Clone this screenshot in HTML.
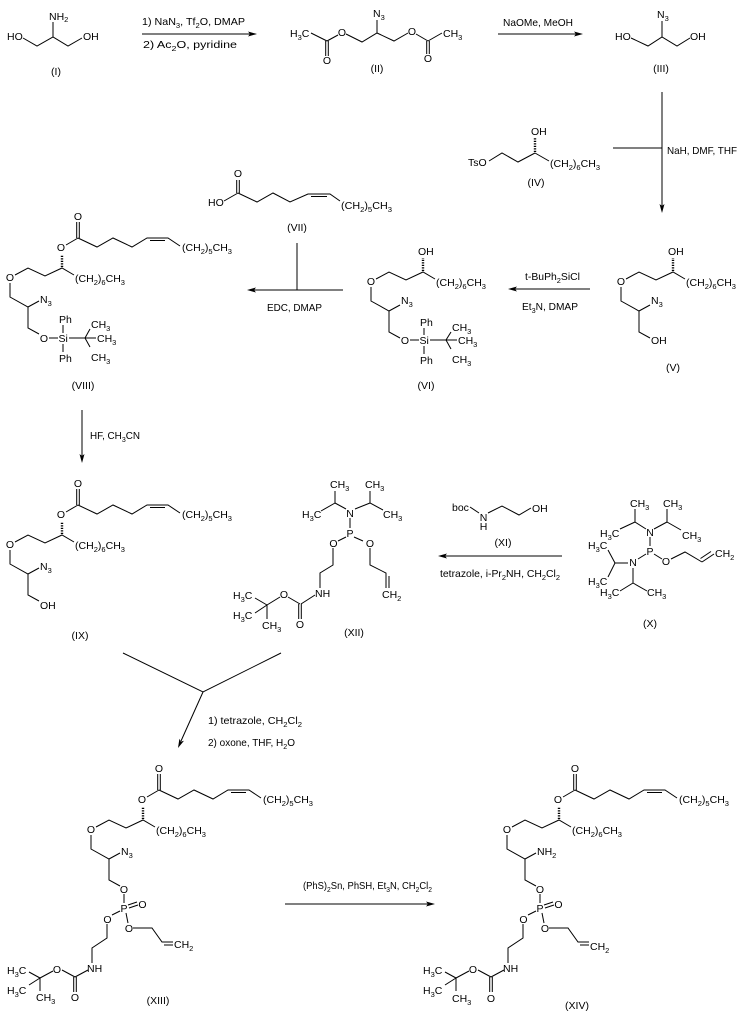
<!DOCTYPE html>
<html><head><meta charset="utf-8"><style>
html,body{margin:0;padding:0;background:#fff;}
svg{display:block;}
text{font-family:"Liberation Sans",Arial,sans-serif;font-size:10.5px;fill:#000;}
.s{font-size:7.5px;}
line,polyline{stroke:#000;stroke-width:1;fill:none;}
polygon{fill:#000;stroke:none;}
.h{stroke-dasharray:1.2 1.3;stroke-width:2.4;}
.m{text-anchor:middle;}
</style></head><body>
<svg width="741" height="1013" viewBox="0 0 741 1013" xmlns="http://www.w3.org/2000/svg">
<rect width="741" height="1013" fill="#fff"/>

<!-- (I) -->
<text x="7" y="40">HO</text>
<text x="83" y="40">OH</text>
<text x="49" y="20">NH<tspan class="s" dy="2">2</tspan></text>
<polyline points="23,38 37,46 53,37 68,46 82,38"/>
<line x1="53" y1="37" x2="53" y2="22"/>
<text x="56" y="75" class="m">(I)</text>

<!-- arrow 1 -->
<line x1="142" y1="34" x2="250" y2="34"/>
<polygon points="257,34 248,31.5 250,34 248,36.5"/>
<text x="142" y="25" textLength="103" lengthAdjust="spacingAndGlyphs">1) NaN<tspan class="s" dy="3">3</tspan><tspan dy="-3">, Tf</tspan><tspan class="s" dy="3">2</tspan><tspan dy="-3">O, DMAP</tspan></text>
<text x="143" y="48" textLength="94" lengthAdjust="spacingAndGlyphs">2) Ac<tspan class="s" dy="3">2</tspan><tspan dy="-3">O, pyridine</tspan></text>

<!-- (II) -->
<text x="290" y="37">H<tspan class="s" dy="3">3</tspan><tspan dy="-3">C</tspan></text>
<line x1="311" y1="33" x2="327" y2="41"/>
<line x1="325.7" y1="41" x2="325.7" y2="56"/><line x1="328.3" y1="41" x2="328.3" y2="56"/>
<text x="327" y="64" class="m">O</text>
<line x1="327" y1="41" x2="338" y2="35"/>
<text x="342" y="36" class="m">O</text>
<polyline points="346,34 362,42 377,33 394,41 408,33"/>
<line x1="377" y1="33" x2="377" y2="20"/>
<text x="373" y="17">N<tspan class="s" dy="3">3</tspan></text>
<text x="412" y="35" class="m">O</text>
<line x1="416" y1="34" x2="428" y2="41"/>
<line x1="428" y1="41" x2="442" y2="33"/>
<line x1="426.7" y1="41" x2="426.7" y2="54"/><line x1="429.3" y1="41" x2="429.3" y2="54"/>
<text x="428" y="62" class="m">O</text>
<text x="443" y="37">CH<tspan class="s" dy="3">3</tspan></text>
<text x="377" y="72" class="m">(II)</text>

<!-- arrow 2 -->
<line x1="498" y1="34" x2="576" y2="34"/>
<polygon points="583,34 574,31.5 576,34 574,36.5"/>
<text x="503" y="26" textLength="70" lengthAdjust="spacingAndGlyphs">NaOMe, MeOH</text>

<!-- (III) -->
<text x="615" y="40">HO</text>
<text x="690" y="40">OH</text>
<polyline points="631,38 648,46 662,37 677,46 690,38"/>
<line x1="662" y1="37" x2="662" y2="21"/>
<text x="657" y="18">N<tspan class="s" dy="3">3</tspan></text>
<text x="661" y="72" class="m">(III)</text>

<!-- arrow 3 -->
<line x1="662" y1="92" x2="662" y2="206"/>
<polygon points="662,213 659.5,204 662,206 664.5,204"/>
<line x1="613" y1="148" x2="662" y2="148"/>
<text x="667" y="154" textLength="70" lengthAdjust="spacingAndGlyphs">NaH, DMF, THF</text>

<!-- (IV) -->
<text x="468" y="166">TsO</text>
<polyline points="489,161 502,153 518,162 535,153"/>
<line class="h" x1="535" y1="152" x2="535" y2="138"/>
<text x="531" y="135">OH</text>
<line x1="535" y1="153" x2="549" y2="161"/>
<text x="550" y="167" textLength="50" lengthAdjust="spacingAndGlyphs">(CH<tspan class="s" dy="3">2</tspan><tspan dy="-3">)</tspan><tspan class="s" dy="3">6</tspan><tspan dy="-3">CH</tspan><tspan class="s" dy="3">3</tspan></text>
<text x="536" y="186" class="m">(IV)</text>

<!-- (VII) -->
<text x="238" y="177" class="m">O</text>
<line x1="236.7" y1="193" x2="236.7" y2="180"/><line x1="239.3" y1="193" x2="239.3" y2="180"/>
<text x="208" y="206">HO</text>
<line x1="224" y1="201" x2="238" y2="193"/>
<polyline points="238,193 257,202 273,193 290,202 308,194 330,194 340,201"/>
<line x1="311" y1="196.5" x2="327" y2="196.5"/>
<text x="341" y="209" textLength="51" lengthAdjust="spacingAndGlyphs">(CH<tspan class="s" dy="3">2</tspan><tspan dy="-3">)</tspan><tspan class="s" dy="3">5</tspan><tspan dy="-3">CH</tspan><tspan class="s" dy="3">3</tspan></text>
<text x="297" y="231" class="m">(VII)</text>

<!-- arrow 5 (EDC) -->
<line x1="343" y1="290" x2="254" y2="290"/>
<polygon points="247,290 256,287.5 254,290 256,292.5"/>
<line x1="297" y1="243" x2="297" y2="290"/>
<text x="267" y="311" textLength="55" lengthAdjust="spacingAndGlyphs">EDC, DMAP</text>

<!-- arrow 4 (V->VI) -->
<line x1="590" y1="289" x2="515" y2="289"/>
<polygon points="508,289 517,286.5 515,289 517,291.5"/>
<text x="525" y="280" textLength="55" lengthAdjust="spacingAndGlyphs">t-BuPh<tspan class="s" dy="3">2</tspan><tspan dy="-3">SiCl</tspan></text>
<text x="522" y="310" textLength="56" lengthAdjust="spacingAndGlyphs">Et<tspan class="s" dy="3">3</tspan><tspan dy="-3">N, DMAP</tspan></text>

<!-- (V) -->
<g transform="translate(621,281)">
<line class="h" x1="52" y1="-10" x2="52" y2="-23"/>
<text x="47" y="-26">OH</text>
<text x="0" y="4" class="m">O</text>
<polyline points="5,-2 18,-9 35,-1 52,-9 64,-2"/>
<text x="65" y="5" textLength="50" lengthAdjust="spacingAndGlyphs">(CH<tspan class="s" dy="3">2</tspan><tspan dy="-3">)</tspan><tspan class="s" dy="3">6</tspan><tspan dy="-3">CH</tspan><tspan class="s" dy="3">3</tspan></text>
<polyline points="0,6 0,20 18,30 29,24"/>
<text x="30" y="23">N<tspan class="s" dy="3">3</tspan></text>
<polyline points="18,30 18,51 29,57"/>
<text x="30" y="63">OH</text>
</g>
<text x="673" y="371" class="m">(V)</text>

<!-- (VI) -->
<g transform="translate(371,281)">
<line class="h" x1="52" y1="-10" x2="52" y2="-23"/>
<text x="47" y="-26">OH</text>
<text x="0" y="4" class="m">O</text>
<polyline points="5,-2 18,-9 35,-1 52,-9 64,-2"/>
<text x="65" y="5" textLength="50" lengthAdjust="spacingAndGlyphs">(CH<tspan class="s" dy="3">2</tspan><tspan dy="-3">)</tspan><tspan class="s" dy="3">6</tspan><tspan dy="-3">CH</tspan><tspan class="s" dy="3">3</tspan></text>
<polyline points="0,6 0,20 18,30 29,24"/>
<text x="30" y="23">N<tspan class="s" dy="3">3</tspan></text>
<polyline points="18,30 18,51 29,57"/>
<text x="34" y="63" class="m">O</text>
<line x1="39" y1="59" x2="48" y2="59"/>
<text x="48.5" y="63">Si</text>
<text x="49" y="45">Ph</text>
<line x1="53" y1="47" x2="53" y2="54"/>
<line x1="53" y1="65" x2="53" y2="73"/>
<text x="49" y="83">Ph</text>
<line x1="59" y1="59" x2="75" y2="59"/>
<line x1="75" y1="59" x2="80" y2="51"/>
<line x1="75" y1="59" x2="86" y2="59"/>
<line x1="75" y1="59" x2="80" y2="68"/>
<text x="81" y="50">CH<tspan class="s" dy="3">3</tspan></text>
<text x="87" y="63">CH<tspan class="s" dy="3">3</tspan></text>
<text x="81" y="82">CH<tspan class="s" dy="3">3</tspan></text>
</g>
<text x="426" y="389" class="m">(VI)</text>

<!-- (VIII) -->
<g transform="translate(10,277)">
<line class="h" x1="52" y1="-10" x2="52" y2="-22"/>
<text x="51" y="-26" class="m">O</text>
<line x1="56" y1="-32" x2="68" y2="-39"/>
<line x1="66.7" y1="-39" x2="66.7" y2="-55"/><line x1="69.3" y1="-39" x2="69.3" y2="-55"/>
<text x="68" y="-57" class="m">O</text>
<polyline points="68,-39 87,-30 103,-39 122,-30 137,-39 158,-39 170,-31"/>
<line x1="140" y1="-36.5" x2="155" y2="-36.5"/>
<text x="172" y="-26" textLength="50" lengthAdjust="spacingAndGlyphs">(CH<tspan class="s" dy="3">2</tspan><tspan dy="-3">)</tspan><tspan class="s" dy="3">5</tspan><tspan dy="-3">CH</tspan><tspan class="s" dy="3">3</tspan></text>
<text x="0" y="4" class="m">O</text>
<polyline points="5,-2 18,-9 35,-1 52,-9 64,-2"/>
<text x="65" y="5" textLength="50" lengthAdjust="spacingAndGlyphs">(CH<tspan class="s" dy="3">2</tspan><tspan dy="-3">)</tspan><tspan class="s" dy="3">6</tspan><tspan dy="-3">CH</tspan><tspan class="s" dy="3">3</tspan></text>
<polyline points="0,6 0,20 18,30 29,24"/>
<text x="30" y="26">N<tspan class="s" dy="3">3</tspan></text>
<polyline points="18,30 18,51 29,57"/>
<text x="34" y="65" class="m">O</text>
<line x1="39" y1="61" x2="48" y2="61"/>
<text x="48.5" y="65">Si</text>
<text x="49" y="46">Ph</text>
<line x1="53" y1="48" x2="53" y2="56"/>
<line x1="53" y1="67" x2="53" y2="75"/>
<text x="49" y="85">Ph</text>
<line x1="59" y1="61" x2="75" y2="61"/>
<line x1="75" y1="61" x2="80" y2="52"/>
<line x1="75" y1="61" x2="86" y2="61"/>
<line x1="75" y1="61" x2="80" y2="70"/>
<text x="81" y="51">CH<tspan class="s" dy="3">3</tspan></text>
<text x="87" y="65">CH<tspan class="s" dy="3">3</tspan></text>
<text x="81" y="84">CH<tspan class="s" dy="3">3</tspan></text>
</g>
<text x="83" y="389" class="m">(VIII)</text>

<!-- arrow 6 -->
<line x1="82" y1="410" x2="82" y2="456"/>
<polygon points="82,463 79.5,454 82,456 84.5,454"/>
<text x="90" y="439" textLength="50" lengthAdjust="spacingAndGlyphs">HF, CH<tspan class="s" dy="3">3</tspan><tspan dy="-3">CN</tspan></text>

<!-- (IX) -->
<g transform="translate(10,544)">
<line class="h" x1="52" y1="-10" x2="52" y2="-22"/>
<text x="51" y="-26" class="m">O</text>
<line x1="56" y1="-32" x2="68" y2="-39"/>
<line x1="66.7" y1="-39" x2="66.7" y2="-55"/><line x1="69.3" y1="-39" x2="69.3" y2="-55"/>
<text x="68" y="-57" class="m">O</text>
<polyline points="68,-39 87,-30 103,-39 122,-30 137,-39 158,-39 170,-31"/>
<line x1="140" y1="-36.5" x2="155" y2="-36.5"/>
<text x="172" y="-26" textLength="50" lengthAdjust="spacingAndGlyphs">(CH<tspan class="s" dy="3">2</tspan><tspan dy="-3">)</tspan><tspan class="s" dy="3">5</tspan><tspan dy="-3">CH</tspan><tspan class="s" dy="3">3</tspan></text>
<text x="0" y="4" class="m">O</text>
<polyline points="5,-2 18,-9 35,-1 52,-9 64,-2"/>
<text x="65" y="5" textLength="50" lengthAdjust="spacingAndGlyphs">(CH<tspan class="s" dy="3">2</tspan><tspan dy="-3">)</tspan><tspan class="s" dy="3">6</tspan><tspan dy="-3">CH</tspan><tspan class="s" dy="3">3</tspan></text>
<polyline points="0,6 0,20 18,30 29,24"/>
<text x="30" y="26">N<tspan class="s" dy="3">3</tspan></text>
<polyline points="18,30 18,51 29,57"/>
<text x="30" y="65">OH</text>
</g>
<text x="80" y="639" class="m">(IX)</text>

<!-- (XII) -->
<text x="330" y="488">CH<tspan class="s" dy="3">3</tspan></text>
<text x="365" y="488">CH<tspan class="s" dy="3">3</tspan></text>
<text x="302" y="518">H<tspan class="s" dy="3">3</tspan><tspan dy="-3">C</tspan></text>
<text x="350" y="517" class="m">N</text>
<text x="383" y="518">CH<tspan class="s" dy="3">3</tspan></text>
<polyline points="335,491 335,503 321,511"/>
<line x1="335" y1="503" x2="346" y2="509"/>
<polyline points="370,491 370,503 383,510"/>
<line x1="370" y1="503" x2="355" y2="509"/>
<line x1="350" y1="518" x2="350" y2="528"/>
<text x="350" y="537" class="m">P</text>
<line x1="346" y1="537" x2="338" y2="541"/>
<line x1="354" y1="537" x2="363" y2="541"/>
<text x="333.5" y="547" class="m">O</text>
<text x="370" y="547" class="m">O</text>
<polyline points="333,548 333,565 320,573 320,588"/>
<text x="315" y="597">NH</text>
<polyline points="370,548 370,565 386,573 386,588"/>
<line x1="389" y1="576" x2="389" y2="588"/>
<text x="382" y="598">CH<tspan class="s" dy="3">2</tspan></text>
<line x1="315" y1="595" x2="301" y2="604"/>
<line x1="298.7" y1="604" x2="298.7" y2="619"/><line x1="301.3" y1="604" x2="301.3" y2="619"/>
<text x="300" y="628" class="m">O</text>
<line x1="300" y1="604" x2="288" y2="597"/>
<text x="284" y="598" class="m">O</text>
<line x1="280" y1="597" x2="267" y2="605"/>
<line x1="267" y1="605" x2="255" y2="598"/>
<line x1="267" y1="605" x2="255" y2="613"/>
<line x1="267" y1="605" x2="267" y2="619"/>
<text x="233" y="599">H<tspan class="s" dy="3">3</tspan><tspan dy="-3">C</tspan></text>
<text x="233" y="619">H<tspan class="s" dy="3">3</tspan><tspan dy="-3">C</tspan></text>
<text x="262" y="629">CH<tspan class="s" dy="3">3</tspan></text>
<text x="354" y="636" class="m">(XII)</text>

<!-- (XI) -->
<text x="452" y="511">boc</text>
<line x1="470" y1="507" x2="479" y2="513"/>
<text x="483.5" y="521" class="m">N</text>
<text x="483.5" y="530" class="m">H</text>
<polyline points="488,513 502,506 519,515 531,508"/>
<text x="532" y="512">OH</text>
<text x="503" y="546" class="m">(XI)</text>

<!-- arrow 7 -->
<line x1="562" y1="556" x2="445" y2="556"/>
<polygon points="438,556 447,553.5 445,556 447,558.5"/>
<text x="440" y="577" textLength="120" lengthAdjust="spacingAndGlyphs">tetrazole, i-Pr<tspan class="s" dy="3">2</tspan><tspan dy="-3">NH, CH</tspan><tspan class="s" dy="3">2</tspan><tspan dy="-3">Cl</tspan><tspan class="s" dy="3">2</tspan></text>

<!-- (X) -->
<text x="630" y="507">CH<tspan class="s" dy="3">3</tspan></text>
<text x="663" y="507">CH<tspan class="s" dy="3">3</tspan></text>
<text x="600" y="537">H<tspan class="s" dy="3">3</tspan><tspan dy="-3">C</tspan></text>
<text x="650" y="536" class="m">N</text>
<text x="682" y="539">CH<tspan class="s" dy="3">3</tspan></text>
<polyline points="635,509 635,522 620,529"/>
<line x1="635" y1="522" x2="646" y2="529"/>
<polyline points="667,509 667,522 681,530"/>
<line x1="667" y1="522" x2="654" y2="529"/>
<line x1="650" y1="537" x2="650" y2="546"/>
<text x="650" y="555" class="m">P</text>
<line x1="646" y1="554" x2="638" y2="559"/>
<line x1="654" y1="554" x2="662" y2="559"/>
<text x="666" y="565" class="m">O</text>
<polyline points="671,559 685,552 702,562"/>
<line x1="702" y1="562" x2="714" y2="554"/>
<line x1="700.5" y1="558.5" x2="711" y2="551.5"/>
<text x="715" y="557">CH<tspan class="s" dy="3">2</tspan></text>
<text x="633" y="566" class="m">N</text>
<line x1="628" y1="563" x2="615" y2="563"/>
<line x1="615" y1="563" x2="608" y2="550"/>
<line x1="615" y1="563" x2="608" y2="577"/>
<text x="588" y="549">H<tspan class="s" dy="3">3</tspan><tspan dy="-3">C</tspan></text>
<text x="588" y="585">H<tspan class="s" dy="3">3</tspan><tspan dy="-3">C</tspan></text>
<line x1="633" y1="568" x2="633" y2="583"/>
<line x1="633" y1="583" x2="620" y2="591"/>
<line x1="633" y1="583" x2="647" y2="591"/>
<text x="600" y="596">H<tspan class="s" dy="3">3</tspan><tspan dy="-3">C</tspan></text>
<text x="647" y="596">CH<tspan class="s" dy="3">3</tspan></text>
<text x="650" y="627" class="m">(X)</text>

<!-- arrow 8 convergent -->
<polyline points="123,653 203,692 281,653"/>
<line x1="203" y1="692" x2="181" y2="741"/>
<polygon points="178,748 184,740.8 180.9,741.6 179.4,738.8"/>
<text x="208" y="724" textLength="94" lengthAdjust="spacingAndGlyphs">1) tetrazole, CH<tspan class="s" dy="3">2</tspan><tspan dy="-3">Cl</tspan><tspan class="s" dy="3">2</tspan></text>
<text x="208" y="746" textLength="87" lengthAdjust="spacingAndGlyphs">2) oxone, THF, H<tspan class="s" dy="3">2</tspan><tspan dy="-3">O</tspan></text>

<!-- (XIII) -->
<g transform="translate(91,829)">
<line class="h" x1="52" y1="-10" x2="52" y2="-22"/>
<text x="51" y="-26" class="m">O</text>
<line x1="56" y1="-32" x2="68" y2="-39"/>
<line x1="66.7" y1="-39" x2="66.7" y2="-55"/><line x1="69.3" y1="-39" x2="69.3" y2="-55"/>
<text x="68" y="-57" class="m">O</text>
<polyline points="68,-39 87,-30 103,-39 122,-30 137,-39 158,-39 170,-31"/>
<line x1="140" y1="-36.5" x2="155" y2="-36.5"/>
<text x="172" y="-26" textLength="50" lengthAdjust="spacingAndGlyphs">(CH<tspan class="s" dy="3">2</tspan><tspan dy="-3">)</tspan><tspan class="s" dy="3">5</tspan><tspan dy="-3">CH</tspan><tspan class="s" dy="3">3</tspan></text>
<text x="0" y="4" class="m">O</text>
<polyline points="5,-2 18,-9 35,-1 52,-9 64,-2"/>
<text x="65" y="5" textLength="50" lengthAdjust="spacingAndGlyphs">(CH<tspan class="s" dy="3">2</tspan><tspan dy="-3">)</tspan><tspan class="s" dy="3">6</tspan><tspan dy="-3">CH</tspan><tspan class="s" dy="3">3</tspan></text>
<polyline points="0,6 0,20 18,30 29,24"/>
<text x="30" y="26">N<tspan class="s" dy="3">3</tspan></text>
<polyline points="18,30 18,51 29,57"/>
<text x="33" y="64" class="m">O</text>
<line x1="33" y1="65" x2="33" y2="74"/>
<text x="33" y="83" class="m">P</text>
<line x1="37" y1="76" x2="46" y2="73"/><line x1="38" y1="79" x2="47" y2="76"/>
<text x="51.5" y="79" class="m">O</text>
<line x1="29" y1="82" x2="21" y2="86"/>
<text x="16.5" y="94" class="m">O</text>
<line x1="35" y1="84" x2="37" y2="94"/>
<text x="38" y="103" class="m">O</text>
<polyline points="42,99 61,99 71,113 82,113"/>
<line x1="73" y1="116" x2="82" y2="116"/>
<text x="83" y="119">CH<tspan class="s" dy="3">2</tspan></text>
<polyline points="16,95 16,109 1,119 1,134"/>
<text x="-4" y="143">NH</text>
<line x1="-3" y1="141" x2="-16" y2="148"/>
<line x1="-17.3" y1="148" x2="-17.3" y2="163"/><line x1="-14.7" y1="148" x2="-14.7" y2="163"/>
<text x="-16" y="172" class="m">O</text>
<line x1="-16" y1="148" x2="-29" y2="141"/>
<text x="-34" y="144" class="m">O</text>
<line x1="-38" y1="142" x2="-51" y2="149"/>
<line x1="-51" y1="149" x2="-62" y2="143"/>
<line x1="-51" y1="149" x2="-62" y2="156"/>
<line x1="-51" y1="149" x2="-51" y2="162"/>
<text x="-84" y="145">H<tspan class="s" dy="3">3</tspan><tspan dy="-3">C</tspan></text>
<text x="-84" y="165">H<tspan class="s" dy="3">3</tspan><tspan dy="-3">C</tspan></text>
<text x="-55" y="172">CH<tspan class="s" dy="3">3</tspan></text>
</g>
<text x="158" y="1004" class="m">(XIII)</text>

<!-- arrow 9 -->
<line x1="285" y1="904" x2="428" y2="904"/>
<polygon points="435,904 426,901.5 428,904 426,906.5"/>
<text x="303" y="889" textLength="129" lengthAdjust="spacingAndGlyphs">(PhS)<tspan class="s" dy="3">2</tspan><tspan dy="-3">Sn, PhSH, Et</tspan><tspan class="s" dy="3">3</tspan><tspan dy="-3">N, CH</tspan><tspan class="s" dy="3">2</tspan><tspan dy="-3">Cl</tspan><tspan class="s" dy="3">2</tspan></text>

<!-- (XIV) -->
<g transform="translate(507,829)">
<line class="h" x1="52" y1="-10" x2="52" y2="-22"/>
<text x="51" y="-26" class="m">O</text>
<line x1="56" y1="-32" x2="68" y2="-39"/>
<line x1="66.7" y1="-39" x2="66.7" y2="-55"/><line x1="69.3" y1="-39" x2="69.3" y2="-55"/>
<text x="68" y="-57" class="m">O</text>
<polyline points="68,-39 87,-30 103,-39 122,-30 137,-39 158,-39 170,-31"/>
<line x1="140" y1="-36.5" x2="155" y2="-36.5"/>
<text x="172" y="-26" textLength="50" lengthAdjust="spacingAndGlyphs">(CH<tspan class="s" dy="3">2</tspan><tspan dy="-3">)</tspan><tspan class="s" dy="3">5</tspan><tspan dy="-3">CH</tspan><tspan class="s" dy="3">3</tspan></text>
<text x="0" y="4" class="m">O</text>
<polyline points="5,-2 18,-9 35,-1 52,-9 64,-2"/>
<text x="65" y="5" textLength="50" lengthAdjust="spacingAndGlyphs">(CH<tspan class="s" dy="3">2</tspan><tspan dy="-3">)</tspan><tspan class="s" dy="3">6</tspan><tspan dy="-3">CH</tspan><tspan class="s" dy="3">3</tspan></text>
<polyline points="0,6 0,20 18,30 29,24"/>
<text x="30" y="26">NH<tspan class="s" dy="3">2</tspan></text>
<polyline points="18,30 18,51 29,57"/>
<text x="33" y="64" class="m">O</text>
<line x1="33" y1="65" x2="33" y2="74"/>
<text x="33" y="83" class="m">P</text>
<line x1="37" y1="76" x2="46" y2="73"/><line x1="38" y1="79" x2="47" y2="76"/>
<text x="51.5" y="79" class="m">O</text>
<line x1="29" y1="82" x2="21" y2="86"/>
<text x="16.5" y="94" class="m">O</text>
<line x1="35" y1="84" x2="37" y2="94"/>
<text x="38" y="103" class="m">O</text>
<polyline points="42,99 61,99 71,113 82,113"/>
<line x1="73" y1="116" x2="82" y2="116"/>
<text x="83" y="121">CH<tspan class="s" dy="3">2</tspan></text>
<polyline points="16,95 16,109 1,119 1,134"/>
<text x="-4" y="143">NH</text>
<line x1="-3" y1="141" x2="-16" y2="148"/>
<line x1="-17.3" y1="148" x2="-17.3" y2="163"/><line x1="-14.7" y1="148" x2="-14.7" y2="163"/>
<text x="-16" y="173" class="m">O</text>
<line x1="-16" y1="148" x2="-29" y2="141"/>
<text x="-34" y="144" class="m">O</text>
<line x1="-38" y1="142" x2="-51" y2="149"/>
<line x1="-51" y1="149" x2="-62" y2="143"/>
<line x1="-51" y1="149" x2="-62" y2="156"/>
<line x1="-51" y1="149" x2="-51" y2="162"/>
<text x="-84" y="145">H<tspan class="s" dy="3">3</tspan><tspan dy="-3">C</tspan></text>
<text x="-84" y="165">H<tspan class="s" dy="3">3</tspan><tspan dy="-3">C</tspan></text>
<text x="-55" y="173">CH<tspan class="s" dy="3">3</tspan></text>
</g>
<text x="577" y="1009" class="m">(XIV)</text>

</svg>
</body></html>
